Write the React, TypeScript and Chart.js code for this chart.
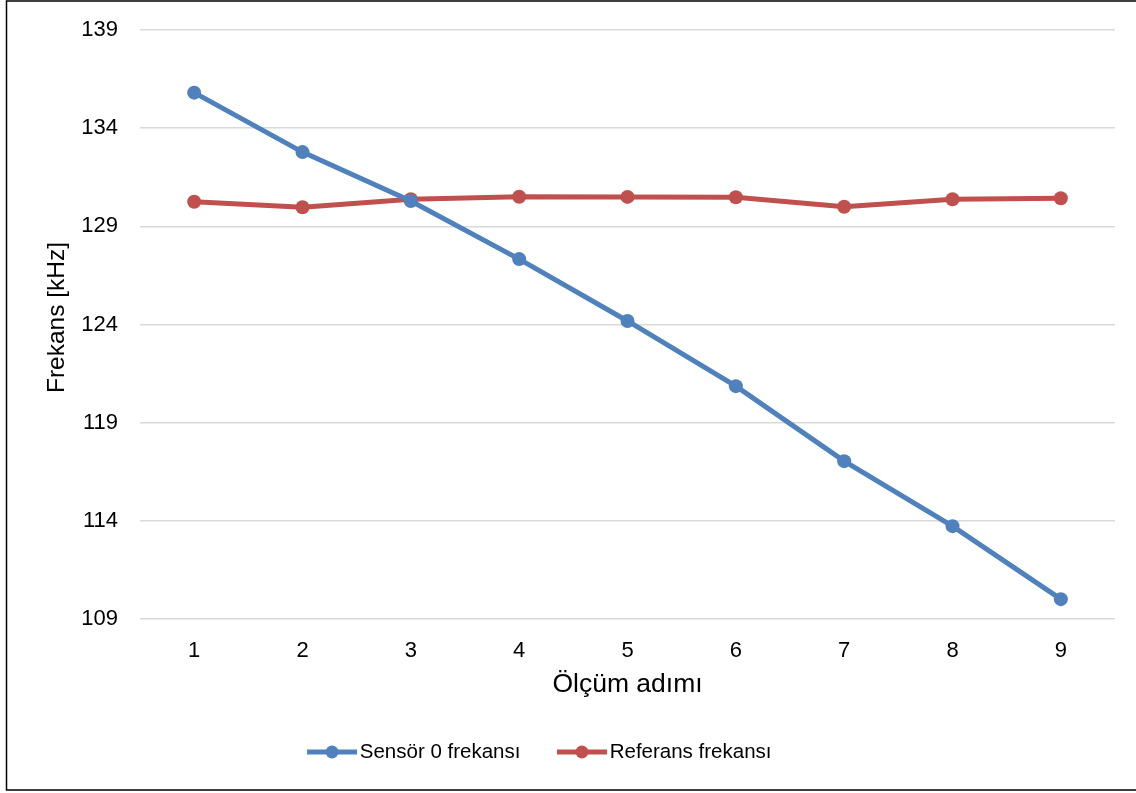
import React, { useEffect, useRef } from "react";
import { Chart, registerables } from "chart.js";

Chart.register(...registerables);

const categories = ["1", "2", "3", "4", "5", "6", "7", "8", "9"];
const sensorValues = [135.81, 132.78, 130.29, 127.33, 124.18, 120.86, 117.04, 113.73, 110.01];
const referenceValues = [130.25, 129.97, 130.38, 130.51, 130.5, 130.48, 130.0, 130.38, 130.43];
const seriesNames = ["Sensör 0 frekansı", "Referans frekansı"];
const xTitle = "Ölçüm adımı";
const yTitle = "Frekans [kHz]";
const yMin = 109;
const yMax = 139;
const yStep = 5;

const BLUE = "#4f81bd";
const RED = "#c0504d";
const FONT = "'Liberation Sans', Arial, sans-serif";

function makeLegendIcon(color: string) {
  const c = document.createElement("canvas");
  c.width = 84;
  c.height = 16;
  const ctx = c.getContext("2d")!;
  ctx.strokeStyle = color;
  ctx.lineWidth = 5;
  ctx.beginPath();
  ctx.moveTo(34, 8);
  ctx.lineTo(84, 8);
  ctx.stroke();
  ctx.fillStyle = color;
  ctx.beginPath();
  ctx.arc(59, 8, 6.5, 0, Math.PI * 2);
  ctx.fill();
  return c;
}

const borderPlugin = {
  id: "outerBorder",
  afterLayout(chart: any) {
    if (chart.legend) {
      chart.legend.left -= 31.5;
      chart.legend.right -= 31.5;
    }
  },
  afterDraw(chart: any) {
    const ctx = chart.ctx;
    const area = chart.chartArea;
    ctx.save();
    ctx.fillStyle = "#000";
    ctx.font = `24.5px ${FONT}`;
    ctx.textAlign = "center";
    ctx.textBaseline = "middle";
    ctx.translate(57.5, (area.top + area.bottom) / 2 - 7);
    ctx.rotate(-Math.PI / 2);
    ctx.fillText(yTitle, 0, 0);
    ctx.restore();

    ctx.save();
    ctx.strokeStyle = "#000";
    ctx.lineWidth = 1.5;
    ctx.beginPath();
    ctx.moveTo(1200, 1);
    ctx.lineTo(6.5, 1);
    ctx.lineTo(6.5, 790);
    ctx.lineTo(1200, 790);
    ctx.stroke();
    ctx.restore();
  },
};

export default function App() {
  const ref = useRef<HTMLCanvasElement>(null);

  useEffect(() => {
    const icons = [makeLegendIcon(BLUE), makeLegendIcon(RED)];
    const chart = new Chart(ref.current!, {
      type: "line",
      data: {
        labels: categories,
        datasets: [
          {
            label: seriesNames[0],
            data: sensorValues,
            borderColor: BLUE,
            backgroundColor: BLUE,
            borderWidth: 5,
            pointRadius: 7,
            pointBorderWidth: 0,
            pointBackgroundColor: BLUE,
            tension: 0,
          },
          {
            label: seriesNames[1],
            data: referenceValues,
            borderColor: RED,
            backgroundColor: RED,
            borderWidth: 5,
            pointRadius: 7,
            pointBorderWidth: 0,
            pointBackgroundColor: RED,
            tension: 0,
          },
        ],
      },
      options: {
        responsive: false,
        animation: false,
        layout: { autoPadding: false, padding: { top: 30, right: 21, bottom: 20.75, left: 0 } },
        plugins: {
          tooltip: { enabled: false },
          legend: {
            position: "bottom",
            labels: {
              usePointStyle: true,
              pointStyleWidth: 69,
              padding: 10,
              color: "#000",
              font: { family: FONT, size: 20.5 },
              generateLabels: (c: any) =>
                (Chart.defaults.plugins.legend.labels as any)
                  .generateLabels(c)
                  .map((l: any, i: number) => ({ ...l, pointStyle: icons[i] })),
            },
          },
        },
        scales: {
          x: {
            offset: true,
            grid: { display: false, drawTicks: false },
            border: { display: false },
            ticks: { color: "#000", padding: 19, font: { family: FONT, size: 22 } },
            title: {
              display: true,
              text: xTitle,
              color: "#000",
              padding: { top: 0, bottom: 31 },
              font: { family: FONT, size: 26.5 },
            },
            afterFit: (s: any) => {
              s.height = 112.75;
            },
          },
          y: {
            min: yMin,
            max: yMax,
            ticks: {
              stepSize: yStep,
              color: "#000",
              padding: 22,
              font: { family: FONT, size: 22 },
            },
            grid: { color: "#d9d9d9", lineWidth: 1.5, drawTicks: false },
            border: { display: false },
            title: { display: false, text: yTitle },
            afterFit: (s: any) => {
              s.width = 140;
              s.paddingTop = 14;
              s.paddingBottom = 14;
            },
          },
        },
      },
      plugins: [borderPlugin],
    });
    return () => chart.destroy();
  }, []);

  return (
    <div style={{ position: "fixed", left: 0, top: 0, width: 1136, height: 793, background: "#fff" }}>
      <canvas ref={ref} width={1136} height={793} style={{ display: "block" }} />
    </div>
  );
}
